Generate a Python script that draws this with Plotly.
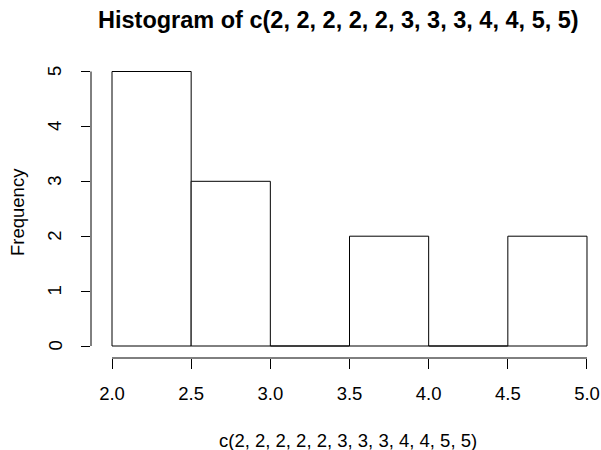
import plotly.graph_objects as go

# Data
bin_left = [2.0, 2.5, 3.0, 3.5, 4.0, 4.5]
bin_width = 0.5
counts = [5, 3, 0, 2, 0, 2]
x_ticks = [2.0, 2.5, 3.0, 3.5, 4.0, 4.5, 5.0]
x_tick_labels = ["2.0", "2.5", "3.0", "3.5", "4.0", "4.5", "5.0"]
y_ticks = [0, 1, 2, 3, 4, 5]
y_tick_labels = ["0", "1", "2", "3", "4", "5"]
title_text = "Histogram of c(2, 2, 2, 2, 2, 3, 3, 3, 4, 4, 5, 5)"
x_title = "c(2, 2, 2, 2, 2, 3, 3, 3, 4, 4, 5, 5)"
y_title = "Frequency"

FONT = "Liberation Sans, Arial, Helvetica, sans-serif"
W, H = 601, 450
# screen-pixel targets
SX_LEFT, SX_RIGHT, SY_TOP, SY_BOTTOM = 91, 595, 60, 358
L = SX_LEFT
T = SY_TOP
R = W - SX_RIGHT
B = H - SY_BOTTOM
pw, ph = W - L - R, H - T - B

XS, YS = 158.33, 54.9  # px per unit
x_lo = 2 - (112 - SX_LEFT) / XS
y_lo = -(SY_BOTTOM - 346) / YS
x_range = [x_lo, x_lo + pw / XS]
y_range = [y_lo, y_lo + ph / YS]

centers = [b + bin_width / 2 for b in bin_left]

fig = go.Figure(go.Bar(
    x=centers, y=counts, width=[bin_width] * len(counts),
    marker=dict(color="white", line=dict(color="black", width=1)),
    showlegend=False, hoverinfo="skip",
))

def px_to_paper_x(sx):
    return (sx - SX_LEFT) / pw

def px_to_paper_y(sy):
    return (SY_BOTTOM - sy) / ph

annotations = [
    dict(text="<b>" + title_text + "</b>", xref="paper", yref="paper",
         x=px_to_paper_x(338.5), y=px_to_paper_y(20), xanchor="center", yanchor="middle",
         showarrow=False, font=dict(size=23.5, family=FONT, color="black")),
    dict(text=x_title, xref="paper", yref="paper",
         x=px_to_paper_x(348), y=px_to_paper_y(440), xanchor="center", yanchor="middle",
         showarrow=False, font=dict(size=18.5, family=FONT, color="black")),
    dict(text=y_title, xref="paper", yref="paper",
         x=px_to_paper_x(18), y=px_to_paper_y(212), xanchor="center", yanchor="middle",
         textangle=-90, showarrow=False, font=dict(size=18.5, family=FONT, color="black")),
]
# y tick labels (rotated, R style), positioned on the y scale
for v, lab in zip(y_ticks, y_tick_labels):
    annotations.append(dict(text=lab, xref="paper", yref="y",
                            x=px_to_paper_x(54.5), y=v, xanchor="center", yanchor="middle",
                            textangle=-90, showarrow=False,
                            font=dict(size=18.5, family=FONT, color="black")))

fig.update_layout(
    width=W, height=H, autosize=False,
    margin=dict(l=L, r=R, t=T, b=B, pad=0),
    paper_bgcolor="white", plot_bgcolor="white",
    font=dict(family=FONT, color="black", size=18.5),
    bargap=0,
    xaxis=dict(range=x_range, tickvals=x_ticks, ticktext=x_tick_labels,
               ticks="outside", ticklen=10, tickwidth=1, tickcolor="black",
               showline=False, showgrid=False, zeroline=False, automargin=False,
               tickfont=dict(size=18.5), ticklabelstandoff=9, fixedrange=True),
    yaxis=dict(range=y_range, tickvals=y_ticks, showticklabels=False,
               ticks="outside", ticklen=9, tickwidth=1, tickcolor="black",
               showline=False, showgrid=False, zeroline=False, automargin=False,
               fixedrange=True),
    shapes=[
        dict(type="line", xref="x", yref="paper", x0=x_ticks[0], x1=x_ticks[-1],
             y0=0, y1=0, line=dict(color="black", width=1)),
        dict(type="line", xref="paper", yref="y", x0=0, x1=0,
             y0=y_ticks[0], y1=y_ticks[-1], line=dict(color="black", width=1)),
    ],
    annotations=annotations,
)

fig.write_html(
    "out.html",
    config={"displayModeBar": False, "staticPlot": True},
    post_script="document.body.style.margin='0';document.body.style.overflow='hidden';",
)
